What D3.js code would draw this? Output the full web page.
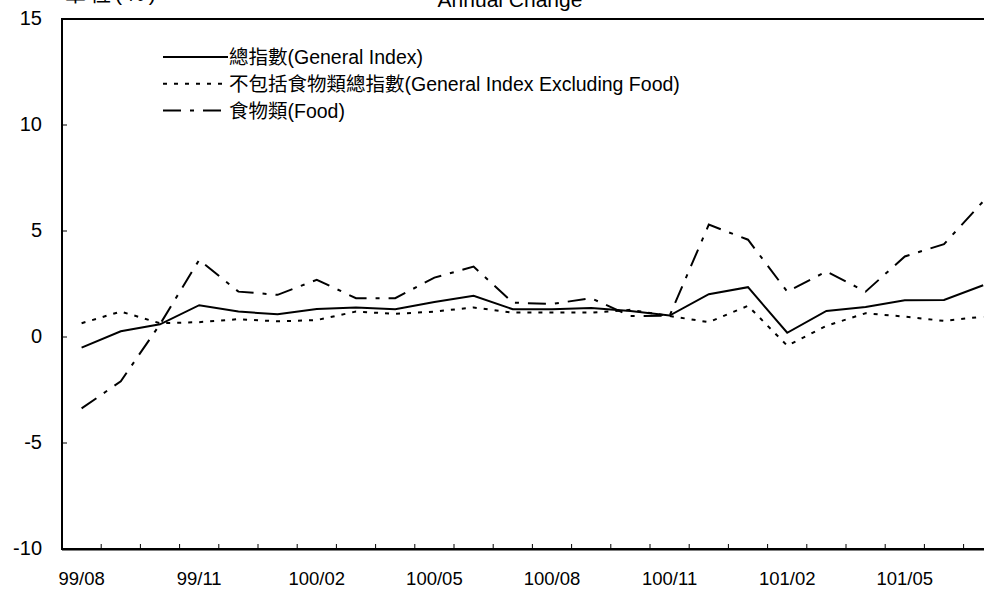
<!DOCTYPE html>
<html>
<head>
<meta charset="utf-8">
<script src="https://cdn.jsdelivr.net/npm/d3@7/dist/d3.min.js"></script>
<style>
  body { margin: 0; background: #fff; }
  svg { display: block; font-family: "Liberation Sans", Arial, "Noto Sans CJK TC", sans-serif; }
</style>
</head>
<body>
<script>
// months from 99/08 to 101/07 (ROC calendar)
const months = [
  '99/08', '99/09', '99/10', '99/11', '99/12', '100/01', '100/02', '100/03',
  '100/04', '100/05', '100/06', '100/07', '100/08', '100/09', '100/10', '100/11',
  '100/12', '101/01', '101/02', '101/03', '101/04', '101/05', '101/06', '101/07'
]
const generalIndex = [
  -0.5, 0.27, 0.6, 1.5, 1.2, 1.07, 1.32, 1.39, 1.31, 1.65, 1.94, 1.31,
  1.31, 1.37, 1.23, 1.01, 2.02, 2.35, 0.2, 1.23, 1.42, 1.73, 1.75, 2.44
]
const exclFood = [
  0.65, 1.2, 0.65, 0.7, 0.84, 0.74, 0.8, 1.2, 1.09, 1.2, 1.39, 1.15,
  1.16, 1.15, 1.28, 0.99, 0.7, 1.47, -0.41, 0.53, 1.12, 0.96, 0.76, 0.96
]
const food = [
  -3.37, -2.09, 0.6, 3.64, 2.14, 1.99, 2.7, 1.83, 1.83, 2.8, 3.32, 1.62,
  1.56, 1.83, 0.99, 1.0, 5.3, 4.59, 2.14, 3.09, 2.14, 3.8, 4.38, 6.4
]
const yTicks = [-10, -5, 0, 5, 10, 15]
const labelEvery = 3

const series = [
  { name: '總指數(General Index)', values: generalIndex, dash: null },
  { name: '不包括食物類總指數(General Index Excluding Food)', values: exclFood, dash: '4,7' },
  { name: '食物類(Food)', values: food, dash: '18,9,4,9' }
]

const width = 984, height = 592
const plot = { left: 62, top: 19, bottom: 549, step: 39.2 }
plot.right = plot.left + plot.step * months.length

const svg = d3.select('body').append('svg')
  .attr('width', width)
  .attr('height', height)

const x = d3.scaleBand().domain(months).range([plot.left, plot.right])
const y = d3.scaleLinear().domain([-10, 15]).range([plot.bottom, plot.top])

// header texts, mostly above the window as in the source picture
svg.append('text').attr('x', 65).attr('y', 1).attr('font-size', 21)
  .attr('letter-spacing', 4).text('單位(%)')
svg.append('text').attr('x', 510).attr('y', 7).attr('font-size', 21)
  .attr('text-anchor', 'middle').text('Annual Change')

// y axis labels and inner ticks
svg.selectAll('.ylab').data(yTicks).enter().append('text')
  .attr('class', 'ylab')
  .attr('x', 42)
  .attr('y', d => y(d) + 6)
  .attr('text-anchor', 'end')
  .attr('font-size', 20)
  .text(d => d)

svg.selectAll('.ytick').data(yTicks.slice(1, -1)).enter().append('line')
  .attr('x1', plot.left).attr('x2', plot.left + 5)
  .attr('y1', d => y(d)).attr('y2', d => y(d))
  .attr('stroke', '#000')

// x ticks on category boundaries, pointing up
svg.selectAll('.xtick').data(months.slice(1)).enter().append('line')
  .attr('x1', d => x(d)).attr('x2', d => x(d))
  .attr('y1', plot.bottom).attr('y2', plot.bottom - 5)
  .attr('stroke', '#000')

svg.selectAll('.xlab').data(months.filter((m, i) => i % labelEvery === 0)).enter().append('text')
  .attr('x', d => x(d) + x.bandwidth() / 2)
  .attr('y', 585)
  .attr('text-anchor', 'middle')
  .attr('font-size', 18.5)
  .text(d => d)

// plot frame
svg.append('rect')
  .attr('x', plot.left).attr('y', plot.top)
  .attr('width', plot.right - plot.left).attr('height', plot.bottom - plot.top)
  .attr('fill', 'none').attr('stroke', '#000').attr('stroke-width', 2)
svg.append('line')
  .attr('x1', plot.left).attr('x2', plot.right)
  .attr('y1', plot.bottom + 0.5).attr('y2', plot.bottom + 0.5)
  .attr('stroke', '#000').attr('stroke-width', 2)

const line = d3.line()
  .x((d, i) => x(months[i]) + x.bandwidth() / 2)
  .y(d => y(d))

svg.selectAll('.series').data(series).enter().append('path')
  .attr('d', d => line(d.values))
  .attr('fill', 'none')
  .attr('stroke', '#000')
  .attr('stroke-width', 2)
  .attr('stroke-dasharray', d => d.dash)

// legend
const legend = svg.selectAll('.legend').data(series).enter().append('g')
  .attr('transform', (d, i) => `translate(163, ${57 + i * 26.8})`)
legend.append('line')
  .attr('x1', 0).attr('x2', 65)
  .attr('stroke', '#000').attr('stroke-width', 2)
  .attr('stroke-dasharray', d => d.dash)
legend.append('text')
  .attr('x', 66).attr('y', 7)
  .attr('font-size', 19.5)
  .text(d => d.name)
</script>
</body>
</html>
